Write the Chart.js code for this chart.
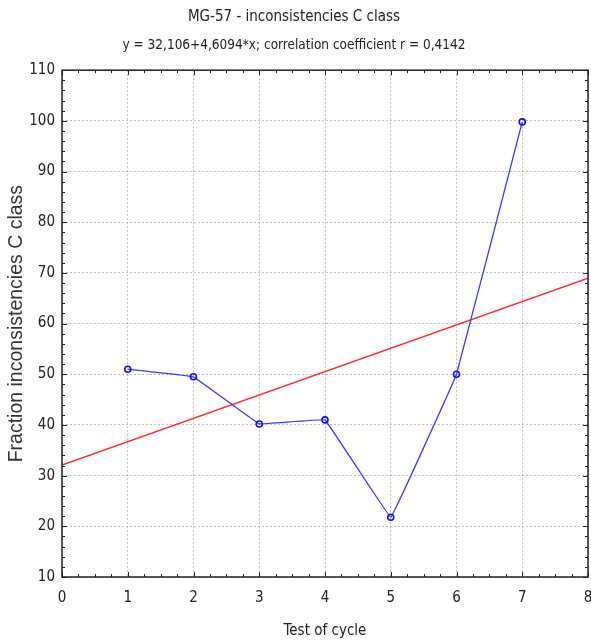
<!DOCTYPE html>
<html>
<head>
<meta charset="utf-8">
<script src="https://cdn.jsdelivr.net/npm/chart.js@4/dist/chart.umd.min.js"></script>
<style>
html, body { margin: 0; padding: 0; background: #fff; }
</style>
</head>
<body>
<canvas id="cycle-chart" width="591" height="644"></canvas>
<script>
const cycles = [1, 2, 3, 4, 5, 6, 7];
const fractionC = [51, 49.5, 40.2, 41, 21.8, 50, 99.8];
const fitX = [0, 8];
const fitY = [32.106, 68.981];   // y = 32,106 + 4,6094*x at x = 0 and x = 8
const titleText = 'MG-57 - inconsistencies C class';
const fitText = 'y = 32,106+4,6094*x; correlation coefficient r = 0,4142';

const narrow = '"Liberation Sans Narrow", "Arial Narrow", "DejaVu Sans Condensed", sans-serif';
const textColor = '#222';
const gridColor = 'rgba(150,150,150,0.6)';

// frame around the plot plus inward major/minor ticks on all four sides
const framePlugin = {
    id: 'frame',
    afterDatasetsDraw(chart) {
        const { ctx, chartArea: a, scales } = chart;
        ctx.save();
        ctx.strokeStyle = '#222';
        ctx.lineWidth = 1;
        for (let v = 0; v <= 8.001; v += 0.25) {
            const px = Math.round(scales.x.getPixelForValue(v)) + 0.5;
            const len = Math.abs(v - Math.round(v)) < 0.01 ? 5 : 3;
            ctx.beginPath();
            ctx.moveTo(px, a.bottom); ctx.lineTo(px, a.bottom - len);
            ctx.moveTo(px, a.top); ctx.lineTo(px, a.top + len);
            ctx.stroke();
        }
        for (let v = 10; v <= 110.001; v += 2) {
            const py = Math.round(scales.y.getPixelForValue(v)) + 0.5;
            const len = v % 10 === 0 ? 5 : 3;
            ctx.beginPath();
            ctx.moveTo(a.left, py); ctx.lineTo(a.left + len, py);
            ctx.moveTo(a.right, py); ctx.lineTo(a.right - len, py);
            ctx.stroke();
        }
        ctx.lineWidth = 1.5;
        ctx.strokeRect(a.left, a.top, a.right - a.left, a.bottom - a.top);
        ctx.restore();
    }
};

new Chart(document.getElementById('cycle-chart'), {
    type: 'scatter',
    data: {
        datasets: [
            {
                data: cycles.map((c, i) => ({ x: c, y: fractionC[i] })),
                showLine: true,
                borderColor: '#3a3aff',
                borderWidth: 1.3,
                tension: 0.03,
                pointRadius: 3,
                pointBorderWidth: 1.6,
                pointBorderColor: '#1010ee',
                pointBackgroundColor: 'rgba(255,255,255,0)',
                order: 1
            },
            {
                data: fitX.map((x, i) => ({ x: x, y: fitY[i] })),
                showLine: true,
                borderColor: '#ff3030',
                borderWidth: 1.5,
                pointRadius: 0,
                order: 2
            }
        ]
    },
    options: {
        responsive: false,
        animation: false,
        layout: { autoPadding: false, padding: { left: 0, right: 3, top: 0, bottom: 0 } },
        plugins: {
            legend: { display: false },
            tooltip: { enabled: false },
            title: {
                display: true,
                text: titleText,
                color: textColor,
                font: { family: narrow, size: 15, weight: 'normal', lineHeight: 1.2 },
                padding: { top: 8, bottom: 0 }
            },
            subtitle: {
                display: true,
                text: fitText,
                color: textColor,
                font: { family: narrow, size: 13.5, weight: 'normal', lineHeight: 1.2 },
                padding: { top: 11, bottom: 17 }
            }
        },
        scales: {
            x: {
                type: 'linear',
                min: 0,
                max: 8,
                ticks: { stepSize: 1, color: textColor, padding: 12, font: { family: narrow, size: 15 } },
                grid: { color: gridColor, drawTicks: false },
                border: { display: false, dash: [2, 2] },
                title: { display: true, text: 'Test of cycle', color: textColor, font: { family: narrow, size: 15 }, padding: { top: 10 } },
                afterFit: (s) => { s.height = 67; s.paddingRight = 0; s.paddingLeft = 0; }
            },
            y: {
                min: 10,
                max: 110,
                ticks: { stepSize: 10, color: textColor, padding: 7, font: { family: narrow, size: 15 } },
                grid: { color: gridColor, drawTicks: false },
                border: { display: false, dash: [2, 2] },
                title: { display: true, text: 'Fraction inconsistencies C class', color: '#333', font: { family: '"Liberation Sans", Arial, sans-serif', size: 19.5 }, padding: { top: 5 } },
                afterFit: (s) => { s.width = 62; }
            }
        }
    },
    plugins: [framePlugin]
});
</script>
</body>
</html>
